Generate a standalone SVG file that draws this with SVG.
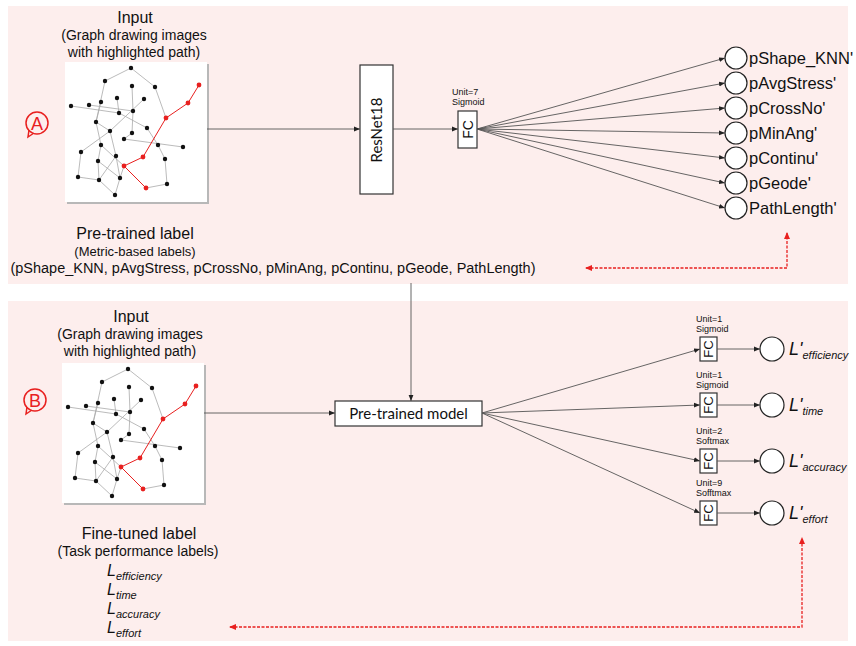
<svg xmlns="http://www.w3.org/2000/svg" xmlns:xlink="http://www.w3.org/1999/xlink" width="856" height="646" viewBox="0 0 856 646">
<style>
.panel{fill:#fdeeed;stroke:none}
.t{font-family:"Liberation Sans",Arial,sans-serif;fill:#111}
.c{font-family:Lato,"Liberation Sans",sans-serif;fill:#111}
.box{fill:#fff;stroke:#333;stroke-width:1.2}
.ln{fill:none;stroke:#555;stroke-width:0.9}
.red{fill:none;stroke:#e8201f;stroke-width:1.3;stroke-dasharray:3 1.5}
.circ{fill:#fff;stroke:#222;stroke-width:1.2}
.ge{stroke:#aaa;stroke-width:0.8;fill:none}
.re{stroke:#e8201f;stroke-width:1;fill:none}
.mk{fill:none;stroke:#e8201f;stroke-width:1.5}
.it{font-style:italic}
.u{font-size:9px}
</style>
<defs>
<marker id="ah" markerWidth="6" markerHeight="6" refX="6" refY="3" orient="auto" markerUnits="userSpaceOnUse"><path d="M0,0.6 L6,3 L0,5.4 z" fill="#222"/></marker>
<marker id="rh" markerWidth="7" markerHeight="7" refX="6" refY="3.5" orient="auto" markerUnits="userSpaceOnUse"><path d="M0,0.5 L7,3.5 L0,6.5 z" fill="#e8201f"/></marker>
<marker id="rhs" markerWidth="7" markerHeight="7" refX="1" refY="3.5" orient="auto" markerUnits="userSpaceOnUse"><path d="M7,0.5 L0,3.5 L7,6.5 z" fill="#e8201f"/></marker>
<g id="graph">
<rect x="2" y="2" width="142" height="140" fill="#b8b8b8"/>
<rect x="0" y="0" width="142" height="140" fill="#fff"/>
<g class="ge">
<line x1="66" y1="6" x2="40" y2="19"/><line x1="66" y1="6" x2="90" y2="25"/>
<line x1="40" y1="19" x2="31" y2="60"/><line x1="90" y1="25" x2="101" y2="56"/>
<line x1="67" y1="24" x2="68" y2="49"/><line x1="68" y1="49" x2="67" y2="71"/>
<line x1="52" y1="36" x2="54" y2="51"/><line x1="54" y1="51" x2="82" y2="66"/>
<line x1="6" y1="44" x2="54" y2="51"/><line x1="24" y1="43" x2="68" y2="49"/>
<line x1="36" y1="40" x2="31" y2="60"/><line x1="79" y1="37" x2="45" y2="69"/>
<line x1="31" y1="60" x2="36" y2="83"/><line x1="36" y1="83" x2="33" y2="99"/>
<line x1="33" y1="99" x2="34" y2="118"/><line x1="45" y1="69" x2="16" y2="90"/>
<line x1="16" y1="90" x2="13" y2="115"/><line x1="13" y1="115" x2="34" y2="118"/>
<line x1="45" y1="69" x2="51" y2="94"/><line x1="51" y1="94" x2="55" y2="116"/>
<line x1="59" y1="77" x2="118" y2="85"/><line x1="82" y1="66" x2="93" y2="83"/>
<line x1="93" y1="83" x2="100" y2="97"/><line x1="100" y1="97" x2="102" y2="122"/>
<line x1="81" y1="126" x2="102" y2="122"/><line x1="36" y1="83" x2="59" y2="104"/>
<line x1="33" y1="99" x2="55" y2="116"/><line x1="55" y1="116" x2="50" y2="133"/>
<line x1="34" y1="118" x2="50" y2="133"/><line x1="51" y1="94" x2="34" y2="118"/>
<line x1="67" y1="71" x2="59" y2="77"/><line x1="31" y1="60" x2="45" y2="69"/>
<line x1="55" y1="116" x2="59" y2="104"/>
</g>
<polyline class="re" points="134,23 123,41 101,56 78,95 59,104 81,126"/>
<g fill="#111">
<circle cx="66" cy="6" r="2.2"/><circle cx="40" cy="19" r="2.2"/><circle cx="67" cy="24" r="2.2"/><circle cx="90" cy="25" r="2.2"/>
<circle cx="52" cy="36" r="2.2"/><circle cx="79" cy="37" r="2.2"/><circle cx="36" cy="40" r="2.2"/><circle cx="6" cy="44" r="2.2"/>
<circle cx="24" cy="43" r="2.2"/><circle cx="54" cy="51" r="2.2"/><circle cx="68" cy="49" r="2.2"/><circle cx="31" cy="60" r="2.2"/>
<circle cx="82" cy="66" r="2.2"/><circle cx="45" cy="69" r="2.2"/><circle cx="67" cy="71" r="2.2"/><circle cx="59" cy="77" r="2.2"/>
<circle cx="36" cy="83" r="2.2"/><circle cx="93" cy="83" r="2.2"/><circle cx="118" cy="85" r="2.2"/><circle cx="16" cy="90" r="2.2"/>
<circle cx="51" cy="94" r="2.2"/><circle cx="33" cy="99" r="2.2"/><circle cx="100" cy="97" r="2.2"/><circle cx="13" cy="115" r="2.2"/>
<circle cx="34" cy="118" r="2.2"/><circle cx="55" cy="116" r="2.2"/><circle cx="102" cy="122" r="2.2"/><circle cx="50" cy="133" r="2.2"/>
</g>
<g fill="#e8201f">
<circle cx="134" cy="23" r="2.4"/><circle cx="123" cy="41" r="2.4"/><circle cx="101" cy="56" r="2.4"/><circle cx="78" cy="95" r="2.4"/><circle cx="59" cy="104" r="2.4"/><circle cx="81" cy="126" r="2.4"/>
</g>
</g>
</defs>

<rect class="panel" x="8" y="6" width="840" height="278"/>
<rect class="panel" x="8" y="301" width="840" height="340"/>

<!-- Panel A -->
<g id="markerA">
<circle class="mk" cx="37" cy="123" r="11"/>
<path class="mk" d="M29,130 L28,137 L34,133"/>
<text class="t" x="37" y="130" font-size="18" text-anchor="middle" style="fill:#e8201f">A</text>
</g>
<g id="inputA">
<text class="t" x="135" y="23" font-size="16" text-anchor="middle">Input</text>
<text class="t" x="134" y="40" font-size="14" text-anchor="middle">(Graph drawing images</text>
<text class="t" x="134" y="57" font-size="14" text-anchor="middle">with highlighted path)</text>
<use xlink:href="#graph" x="65" y="62"/>
</g>
<g id="labelA">
<text class="t" x="135" y="239" font-size="16" text-anchor="middle">Pre-trained label</text>
<text class="t" x="135" y="256" font-size="13" text-anchor="middle">(Metric-based labels)</text>
<text class="t" x="273" y="273" font-size="14" text-anchor="middle" textLength="525" lengthAdjust="spacingAndGlyphs">(pShape_KNN, pAvgStress, pCrossNo, pMinAng, pContinu, pGeode, PathLength)</text>
</g>
<g id="resnet">
<rect class="box" x="360" y="65" width="33" height="129"/>
<text class="c" transform="translate(382,130) rotate(-90)" font-size="15" text-anchor="middle">ResNet18</text>
</g>
<g id="fcA">
<text class="t u" x="452" y="95">Unit=7</text>
<text class="t u" x="452" y="104.5">Sigmoid</text>
<rect class="box" x="458" y="111" width="19" height="37"/>
<text class="t" transform="translate(472.5,129.5) rotate(-90)" font-size="14" text-anchor="middle">FC</text>
</g>
<g id="outA" class="t">
<circle class="circ" cx="736" cy="58" r="11"/><text x="749" y="64" font-size="16.5">pShape_KNN'</text>
<circle class="circ" cx="736" cy="83" r="11"/><text x="749" y="89" font-size="16.5">pAvgStress'</text>
<circle class="circ" cx="736" cy="108" r="11"/><text x="749" y="114" font-size="16.5">pCrossNo'</text>
<circle class="circ" cx="736" cy="133" r="11"/><text x="749" y="139" font-size="16.5">pMinAng'</text>
<circle class="circ" cx="736" cy="158" r="11"/><text x="749" y="164" font-size="16.5">pContinu'</text>
<circle class="circ" cx="736" cy="183" r="11"/><text x="749" y="189" font-size="16.5">pGeode'</text>
<circle class="circ" cx="736" cy="208" r="11"/><text x="749" y="214" font-size="16.5">PathLength'</text>
</g>

<!-- Panel B -->
<g id="markerB">
<circle class="mk" cx="35" cy="400" r="11"/>
<path class="mk" d="M27,407 L26,414 L32,410"/>
<text class="t" x="35" y="407" font-size="18" text-anchor="middle" style="fill:#e8201f">B</text>
</g>
<g id="inputB">
<text class="t" x="131" y="322" font-size="16" text-anchor="middle">Input</text>
<text class="t" x="130" y="339" font-size="14" text-anchor="middle">(Graph drawing images</text>
<text class="t" x="130" y="356" font-size="14" text-anchor="middle">with highlighted path)</text>
<use xlink:href="#graph" x="62" y="363"/>
</g>
<g id="labelB" class="t">
<text x="139" y="539" font-size="16" text-anchor="middle">Fine-tuned label</text>
<text x="138" y="556" font-size="14" text-anchor="middle">(Task performance labels)</text>
<text x="107" y="576" font-size="16" class="t it">L<tspan font-size="11" dy="4">efficiency</tspan></text>
<text x="107" y="595" font-size="16" class="t it">L<tspan font-size="11" dy="4">time</tspan></text>
<text x="107" y="614" font-size="16" class="t it">L<tspan font-size="11" dy="4">accuracy</tspan></text>
<text x="107" y="633" font-size="16" class="t it">L<tspan font-size="11" dy="4">effort</tspan></text>
</g>
<g id="pretrained">
<rect class="box" x="335" y="401" width="147" height="25"/>
<text class="c" x="408.5" y="419" font-size="15" text-anchor="middle">Pre-trained model</text>
</g>
<g id="fcB" class="t">
<text class="u" x="696" y="322">Unit=1</text><text class="u" x="696" y="331.5">Sigmoid</text>
<rect class="box" x="700" y="337" width="17" height="24"/>
<text transform="translate(713,349) rotate(-90)" font-size="13" text-anchor="middle">FC</text>
<text class="u" x="696" y="378">Unit=1</text><text class="u" x="696" y="387.5">Sigmoid</text>
<rect class="box" x="700" y="393" width="17" height="24"/>
<text transform="translate(713,405) rotate(-90)" font-size="13" text-anchor="middle">FC</text>
<text class="u" x="696" y="434">Unit=2</text><text class="u" x="696" y="443.5">Softmax</text>
<rect class="box" x="700" y="449" width="17" height="24"/>
<text transform="translate(713,461) rotate(-90)" font-size="13" text-anchor="middle">FC</text>
<text class="u" x="696" y="486">Unit=9</text><text class="u" x="696" y="495.5">Sofftmax</text>
<rect class="box" x="700" y="501" width="17" height="24"/>
<text transform="translate(713,513) rotate(-90)" font-size="13" text-anchor="middle">FC</text>
</g>
<g id="outB" class="t">
<circle class="circ" cx="772" cy="349" r="12"/><text x="789" y="355" font-size="18" class="t it">L'<tspan font-size="11" dy="4">efficiency</tspan></text>
<circle class="circ" cx="772" cy="405" r="12"/><text x="789" y="411" font-size="18" class="t it">L'<tspan font-size="11" dy="4">time</tspan></text>
<circle class="circ" cx="772" cy="461" r="12"/><text x="789" y="467" font-size="18" class="t it">L'<tspan font-size="11" dy="4">accuracy</tspan></text>
<circle class="circ" cx="772" cy="513" r="12"/><text x="789" y="519" font-size="18" class="t it">L'<tspan font-size="11" dy="4">effort</tspan></text>
</g>

<g id="connectors">
<line class="ln" x1="207" y1="129" x2="360" y2="129" marker-end="url(#ah)"/>
<line class="ln" x1="393" y1="129" x2="458" y2="129" marker-end="url(#ah)"/>
<line class="ln" x1="477" y1="129" x2="725" y2="58" marker-end="url(#ah)"/>
<line class="ln" x1="477" y1="129" x2="725" y2="83" marker-end="url(#ah)"/>
<line class="ln" x1="477" y1="129" x2="725" y2="108" marker-end="url(#ah)"/>
<line class="ln" x1="477" y1="129" x2="725" y2="133" marker-end="url(#ah)"/>
<line class="ln" x1="477" y1="129" x2="725" y2="158" marker-end="url(#ah)"/>
<line class="ln" x1="477" y1="129" x2="725" y2="183" marker-end="url(#ah)"/>
<line class="ln" x1="477" y1="129" x2="725" y2="208" marker-end="url(#ah)"/>
<polyline class="red" points="586,268 787,268 787,233" marker-start="url(#rhs)" marker-end="url(#rh)"/>
<line class="ln" x1="411" y1="283" x2="411" y2="401" marker-end="url(#ah)"/>
<line class="ln" x1="204" y1="413" x2="335" y2="413" marker-end="url(#ah)"/>
<line class="ln" x1="482" y1="413" x2="700" y2="349" marker-end="url(#ah)"/>
<line class="ln" x1="482" y1="413" x2="700" y2="405" marker-end="url(#ah)"/>
<line class="ln" x1="482" y1="413" x2="700" y2="461" marker-end="url(#ah)"/>
<line class="ln" x1="482" y1="413" x2="700" y2="513" marker-end="url(#ah)"/>
<line class="ln" x1="717" y1="349" x2="760" y2="349" marker-end="url(#ah)"/>
<line class="ln" x1="717" y1="405" x2="760" y2="405" marker-end="url(#ah)"/>
<line class="ln" x1="717" y1="461" x2="760" y2="461" marker-end="url(#ah)"/>
<line class="ln" x1="717" y1="513" x2="760" y2="513" marker-end="url(#ah)"/>
<polyline class="red" points="230,627 802,627 802,538" marker-start="url(#rhs)" marker-end="url(#rh)"/>
</g>
</svg>
